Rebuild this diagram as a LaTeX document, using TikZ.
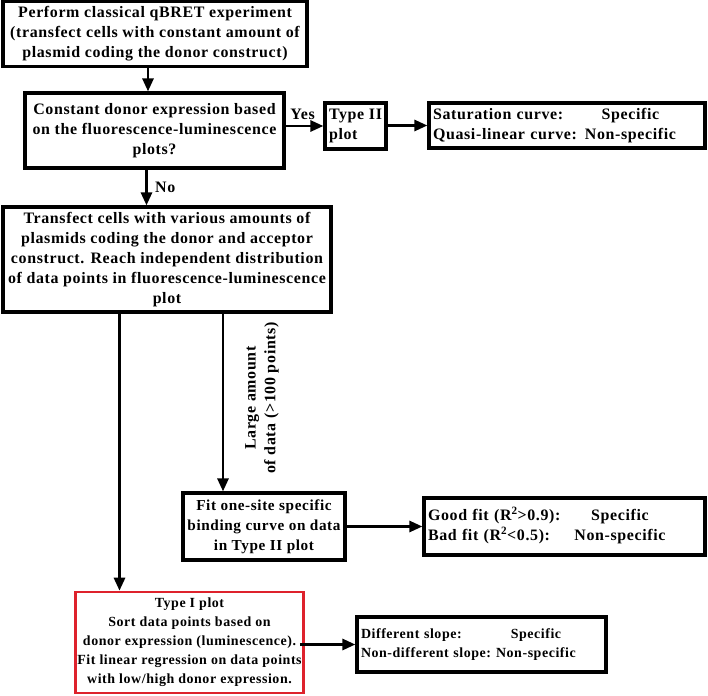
\documentclass[tikz,border=0pt]{standalone}
\usepackage{fontspec}
\setmainfont{Liberation Serif}[LetterSpace=4]
\usetikzlibrary{arrows.meta}
\definecolor{boxred}{RGB}{222,34,44}
\begin{document}
\begin{tikzpicture}[x=1bp,y=-1bp,
		box/.style={draw,line width=3.2bp,align=center,inner sep=2bp,font=\fontsize{16}{20}\selectfont\bfseries},
		small/.style={font=\fontsize{14}{19}\selectfont\bfseries},
		resbox/.style={box,align=left,inner xsep=4bp},
		arr/.style={-{Triangle[length=13bp,width=11bp]},line width=2.8bp},
		lbl/.style={font=\fontsize{16}{20}\selectfont\bfseries}]
		\useasboundingbox (0,0) rectangle (708,696);
		% left column
		\node[box,minimum width=304bp,minimum height=65bp] (perform) at (155,34) {Perform classical qBRET experiment\\(transfect cells with constant amount of\\plasmid coding the donor construct)};
		\node[box,minimum width=259bp,minimum height=75bp] (decide) at (154.5,130.5) {Constant donor expression based\\on the fluorescence-luminescence\\plots?};
		\node[box,minimum width=328bp,minimum height=105bp] (transf) at (167,259.5) {Transfect cells with various amounts of\\plasmids coding the donor and acceptor\\construct. Reach independent distribution\\of data points in fluorescence-luminescence\\plot};
		\node[box,font=\fontsize{15.3}{20}\selectfont\bfseries,minimum width=162bp,minimum height=67bp] (fit) at (264,526.5) {Fit one-site specific\\binding curve on data\\in Type II plot};
		\node[box,small,draw=boxred,line width=2.6bp,minimum width=215bp,minimum height=101bp] (typeI) at (189.5,642.5) {Type I plot\\Sort data points based on\\donor expression (luminescence).\\Fit linear regression on data points\\with low/high donor expression.};
		% right column
		\node[resbox,minimum width=61bp,minimum height=46bp] (typeII) at (355.5,126) {Type II\\plot};
		\node[resbox,text width=268bp,minimum height=45bp] (satur) at (567,125.5) {\begin{tabular}{@{}l@{\hspace{8bp}}c@{}}Saturation curve: & Specific\\Quasi-linear curve: & Non-specific\end{tabular}};
		\node[resbox,text width=273bp,minimum height=57bp] (goodfit) at (564.5,526.5) {\begin{tabular}{@{}l@{\hspace{14bp}}c@{}}Good fit (R\textsuperscript{2}>0.9): & Specific\\Bad fit (R\textsuperscript{2}<0.5): & Non-specific\end{tabular}};
		\node[resbox,small,text width=241bp,minimum height=55bp] (slope) at (481.5,644.5) {\begin{tabular}{@{}l@{\hspace{5bp}}c@{}}Different slope: & Specific\\Non-different slope: & Non-specific\end{tabular}};
		\node[lbl,rotate=90,align=center] (many) at (262,398) {Large amount\\of data (>100 points)};
		% connectors
		\draw[arr] ([xshift=-7bp]perform.south) -- ([xshift=-7bp]perform.south |- decide.north);
		\draw[arr] (decide.east |- typeII.west) -- (typeII.west) node[lbl,pos=.45,above=2bp] {Yes};
		\draw[arr] (typeII.east |- satur.west) -- (satur.west);
		\draw[arr] ([xshift=-8bp]decide.south) -- ([xshift=-8bp]decide.south |- transf.north) node[lbl,midway,right=4bp] {No};
		\draw[arr] ([xshift=-41bp]fit.north |- transf.south) -- ([xshift=-41bp]fit.north);
		\draw[arr] (fit.east |- goodfit.west) -- (goodfit.west);
		\draw[arr] ([xshift=-70bp]typeI.north |- transf.south) -- ([xshift=-70bp]typeI.north);
		\draw[arr] ([xshift=-5bp]typeI.east |- slope.west) -- (slope.west);
	\end{tikzpicture}
\end{document}
